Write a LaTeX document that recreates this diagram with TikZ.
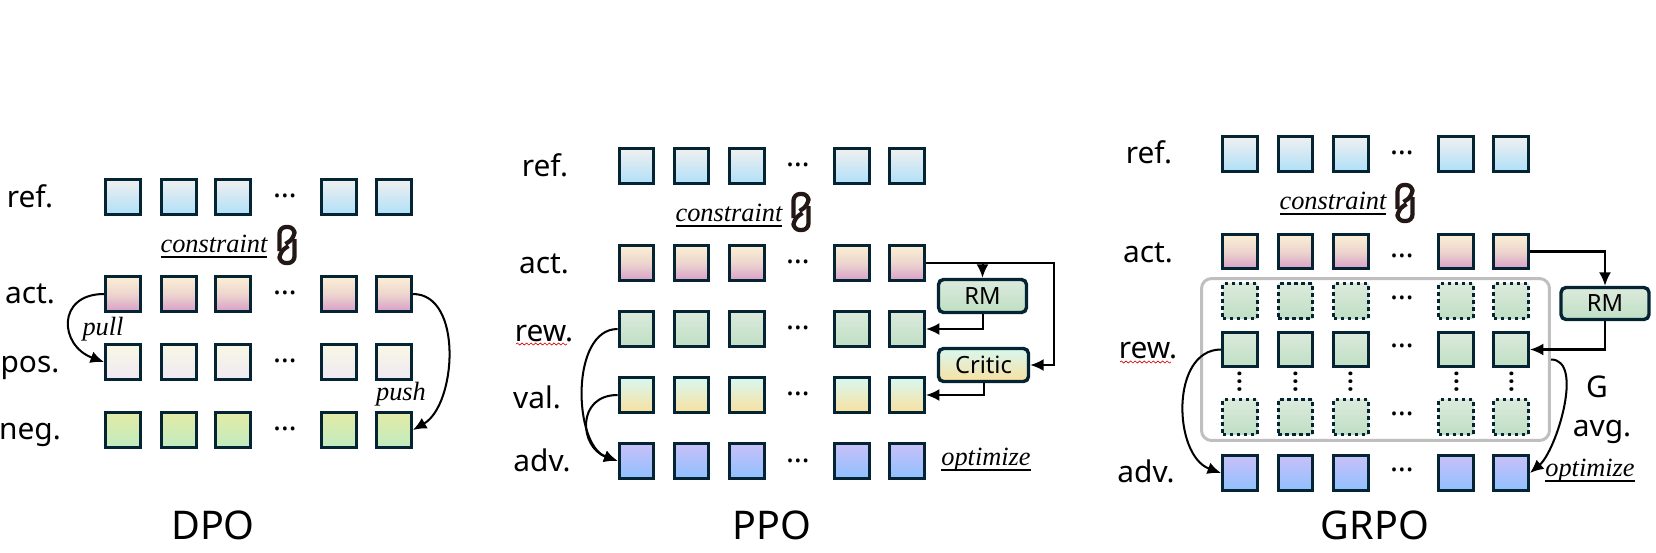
\documentclass[tikz,border=0pt]{standalone}
\usepackage{fontspec}
\setmainfont{Noto Sans}
\newfontfamily\italfont{Liberation Serif}[ItalicFont=* Italic]
\usetikzlibrary{arrows.meta,decorations.pathmorphing}
\definecolor{cellline}{HTML}{042433}
\definecolor{linkink}{HTML}{231815}
\newcommand{\ulword}[1]{\vtop{\hbox{\smash{\italfont\itshape #1}}\kern2.4pt\hrule height 0.75pt}}

\begin{document}
\begin{tikzpicture}[x=0.02cm, y=-0.02cm,
  cell/.style={draw=cellline, line width=0.068cm, minimum size=0.69cm, inner sep=0pt},
  spare/.style={cell, dash pattern=on 0.07cm off 0.07cm},
  refcell/.style={top color=refa, bottom color=refb},
  actcell/.style={top color=acta, bottom color=actb, middle color=actc},
  poscell/.style={top color=posa, bottom color=posb},
  negcell/.style={top color=nega, bottom color=negb},
  rewcell/.style={top color=rewa, bottom color=rewb},
  valcell/.style={top color=vala, bottom color=valb},
  advcell/.style={top color=adva, bottom color=advb},
  modelbox/.style={draw=cellline, line width=0.068cm, rounded corners=0.1cm, inner sep=0pt, font=\fontsize{13.5}{15}\selectfont},
  rowname/.style={anchor=base, inner sep=0pt, font=\fontsize{17}{20}\selectfont},
  dotrow/.style={inner sep=0pt, font=\fontsize{17}{20}\selectfont\bfseries},
  title/.style={inner sep=0pt, font=\fontsize{22.5}{26}\selectfont},
  note/.style={anchor=base, inner sep=0pt, font=\fontsize{15}{18}\selectfont},
  plain/.style={anchor=base, inner sep=0pt, font=\fontsize{15}{18}\selectfont\italfont\itshape},
  arr/.style={-{Latex[length=0.27cm,width=0.24cm]}, line width=1.15pt, black},
  squiggle/.style={red!80!black, line width=0.35pt, decorate, decoration={snake, amplitude=0.6pt, segment length=2.6pt}},
  chainlink/.pic={
    \draw[linkink, line width=0.085cm, rounded corners=0.13cm] (-7.5,6) -- (-7.5,-18) -- (7.5,-18) -- (7.5,-7) -- (-1.5,-1);
    \draw[linkink, line width=0.085cm, rounded corners=0.13cm] (7.5,-6) -- (7.5,18) -- (-7.5,18) -- (-7.5,7) -- (1.5,1);
  }
]
\colorlet{refa}{black!6}
\definecolor{refb}{HTML}{B0E0F8}
\definecolor{acta}{HTML}{FBF0D5}
\definecolor{actc}{HTML}{EDD5CE}
\definecolor{actb}{HTML}{D8A0C8}
\definecolor{posa}{HTML}{F8F8E4}
\definecolor{posb}{HTML}{F0E8F2}
\definecolor{nega}{HTML}{E4EBA5}
\definecolor{negb}{HTML}{C0EBC0}
\definecolor{rewa}{HTML}{DCEADC}
\definecolor{rewb}{HTML}{BFDFC4}
\definecolor{vala}{HTML}{D8F8F0}
\definecolor{valb}{HTML}{F8E0A0}
\definecolor{adva}{HTML}{C8C0F8}
\definecolor{advb}{HTML}{90C0FF}

\useasboundingbox (0,0) rectangle (1656,552);

\foreach \row/\y in {ref/197,act/294,pos/362,neg/430}
  \foreach \x [count=\i] in {123,179,233,339,394}
    \node[cell, \row cell] (dpo\row\i) at (\x,\y) {};
\foreach \row/\y in {ref/196,act/293,pos/361,neg/429}
  \node[dotrow] (dpo\row dots) at (285,\y) {…};
\node[rowname] (dporefname) at (30,207) {ref.};
\node[rowname] (dpoactname) at (30,303) {act.};
\node[rowname] (dpoposname) at (30,372) {pos.};
\node[rowname] (dponegname) at (30,439) {neg.};
\node[note] (dpoconstraint) at (214,252) {\ulword{constraint}};
\pic (dpolink) at (287,245) {chainlink};
\node[plain] (dpopull) at (103,335) {pull};
\node[plain] (dpopush) at (401,400) {push};
\node[title] (dpotitle) at (213,525) {DPO};
\draw[arr] (dpoact1.west) to[out=180, in=160, looseness=1.8] (dpopos1.west);
\draw[arr] (dpoact5.east) to[out=0, in=30, looseness=0.95] (dponeg5.east);

\foreach \row/\y in {ref/166,act/263,rew/329,val/395,adv/461}
  \foreach \x [count=\i] in {636.5,691.5,747,852,907}
    \node[cell, \row cell] (ppo\row\i) at (\x,\y) {};
\foreach \row/\y in {ref/165,act/262,rew/328,val/394,adv/461}
  \node[dotrow] (ppo\row dots) at (798,\y) {…};
\node[rowname] (pporefname) at (545,176) {ref.};
\node[rowname] (ppoactname) at (544,273) {act.};
\node[rowname] (pporewname) at (544,341) {rew.};
\node[rowname] (ppovalname) at (537,408) {val.};
\node[rowname] (ppoadvname) at (542,471) {adv.};
\coordinate (pporewwavea) at (516,344);
\coordinate (pporewwaveb) at (567,344);
\draw[squiggle] (pporewwavea) -- (pporewwaveb);
\node[note] (ppoconstraint) at (729,221) {\ulword{constraint}};
\pic (ppolink) at (801,212) {chainlink};
\node[modelbox, top color=rewa, bottom color=rewb, minimum width=1.76cm, minimum height=0.66cm] (ppoRM) at (982.5,296) {RM};
\node[modelbox, top color=vala, bottom color=valb, minimum width=1.8cm, minimum height=0.66cm] (ppocritic) at (983.5,365) {Critic};
\node[plain] (ppooptimize) at (986,465) {\ulword{optimize}};
\node[title] (ppotitle) at (772,525) {PPO};
\coordinate (ppoturn) at (ppocritic.east -| 1054,0);
\draw[arr] (ppoact5.east) -- (ppoact5.east -| ppoRM.north) -- (ppoRM.north);
\draw[arr] (ppoact5.east) -- (ppoact5.east -| ppoturn) -- (ppoturn) -- (ppocritic.east);
\draw[arr] (ppoRM.south) |- (pporew5.east);
\draw[arr] (ppocritic.south) |- (ppoval5.east);
\draw[arr] (pporew1.west) to[out=180, in=160, looseness=0.92] (ppoadv1.west);
\draw[arr] (ppoval1.west) to[out=180, in=160, looseness=1.6] (ppoadv1.west);

\node[draw=black!25, line width=0.06cm, rounded corners=0.2cm, minimum width=6.96cm, minimum height=3.24cm] (grpogroup) at (1375.5,359.5) {};
\foreach \row/\y in {ref/154,act/251.5,rew/349.5,adv/473}
  \foreach \x [count=\i] in {1240,1295.5,1351,1456,1511}
    \node[cell, \row cell] (grpo\row\i) at (\x,\y) {};
\foreach \y [count=\j] in {301,417}
  \foreach \x [count=\i] in {1240,1295.5,1351,1456,1511}
    \node[spare, rewcell] (grpospare\j\i) at (\x,\y) {};
\foreach \y [count=\j] in {156,259,301,349,417,473}
  \node[dotrow] (grpodots\j) at (1402,\y-3) {…};
\foreach \x [count=\i] in {1240,1296,1351,1457,1512}
  \node[dotrow, rotate=90] (grpovdots\i) at (\x,382) {…};
\node[rowname] (grporefname) at (1149,163) {ref.};
\node[rowname] (grpoactname) at (1148,262) {act.};
\node[rowname] (grporewname) at (1148,358) {rew.};
\node[rowname] (grpoadvname) at (1146,482) {adv.};
\coordinate (grporewwavea) at (1120,362);
\coordinate (grporewwaveb) at (1171,362);
\draw[squiggle] (grporewwavea) -- (grporewwaveb);
\node[note] (grpoconstraint) at (1333,209) {\ulword{constraint}};
\pic (grpolink) at (1405,203) {chainlink};
\node[modelbox, top color=rewa, bottom color=rewb, minimum width=1.76cm, minimum height=0.64cm] (grpoRM) at (1605,303.5) {RM};
\node[rowname] (grpoG) at (1597,397) {G};
\node[rowname] (grpoavg) at (1602,436) {avg.};
\node[plain] (grpooptimize) at (1590,476) {\ulword{optimize}};
\node[title] (grpotitle) at (1375,525) {GRPO};
\draw[arr] (grpoact5.east) -| (grpoRM.north);
\draw[arr] (grpoRM.south) |- (grporew5.east);
\draw[arr] (grporew1.west) to[out=180, in=160, looseness=1.06] (grpoadv1.west);
\draw[arr] (grpogroup.east) to[out=0, in=40, looseness=0.75] (grpoadv5.east);
\end{tikzpicture}
\end{document}
